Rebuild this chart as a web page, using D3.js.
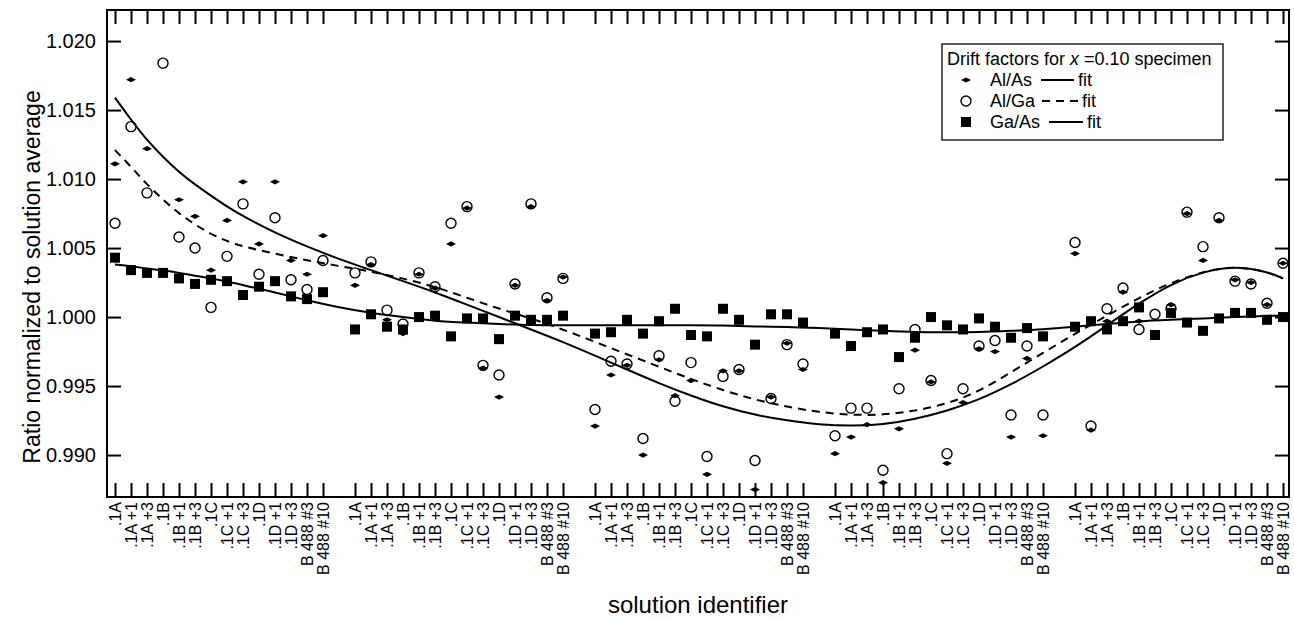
<!DOCTYPE html>
<html>
<head>
<meta charset="utf-8">
<script src="https://cdn.jsdelivr.net/npm/d3@7"></script>
<style>
  body { margin: 0; background: #fff; }
  svg { display: block; }
  text { font-family: "Liberation Sans", Arial, sans-serif; fill: #000; }
</style>
</head>
<body>
<svg id="chart" width="1294" height="618"></svg>
<script>
// labels repeated in each of the 5 solution runs
const runLabels = [".1A", ".1A +1", ".1A +3", ".1B", ".1B +1", ".1B +3", ".1C", ".1C +1", ".1C +3",
  ".1D", ".1D +1", ".1D +3", "B 488 #3", "B 488 #10"];
const runCount = 5;
const yTicks = [0.990, 0.995, 1.000, 1.005, 1.010, 1.015, 1.020];

// measured ratios, 14 per run
const alAs = [
  1.0111, 1.0172, 1.0122, null, 1.0085, 1.0073, 1.0034, 1.0070, 1.0098, 1.0053, 1.0098, 1.0041, 1.0031, 1.0059,
  1.0023, 1.0038, 0.9998, 0.9988, 1.0031, 1.0021, 1.0053, 1.0079, 0.9963, 0.9942, 1.0023, 1.0080, 1.0012, 1.0029,
  0.9921, 0.9958, 0.9965, 0.9900, 0.9969, 0.9943, 0.9954, 0.9886, 0.9961, 0.9961, 0.9875, 0.9942, 0.9981, 0.9962,
  0.9901, 0.9913, 0.9922, 0.9880, 0.9919, 0.9976, 0.9953, 0.9894, 0.9938, 0.9977, 0.9975, 0.9913, 0.9970, 0.9914,
  1.0046, 0.9918, 0.9997, 1.0018, 0.9997, 0.9989, 1.0009, 1.0075, 1.0041, 1.0070, 1.0027, 1.0025, 1.0009, 1.0039
];
const alGa = [
  1.0068, 1.0138, 1.0090, 1.0184, 1.0058, 1.0050, 1.0007, 1.0044, 1.0082, 1.0031, 1.0072, 1.0027, 1.0020, 1.0041,
  1.0032, 1.0040, 1.0005, 0.9995, 1.0032, 1.0022, 1.0068, 1.0080, 0.9965, 0.9958, 1.0024, 1.0082, 1.0014, 1.0028,
  0.9933, 0.9968, 0.9966, 0.9912, 0.9972, 0.9939, 0.9967, 0.9899, 0.9957, 0.9962, 0.9896, 0.9941, 0.9980, 0.9966,
  0.9914, 0.9934, 0.9934, 0.9889, 0.9948, 0.9991, 0.9954, 0.9901, 0.9948, 0.9979, 0.9983, 0.9929, 0.9979, 0.9929,
  1.0054, 0.9921, 1.0006, 1.0021, 0.9991, 1.0002, 1.0006, 1.0076, 1.0051, 1.0072, 1.0026, 1.0024, 1.0010, 1.0039
];
const gaAs = [
  1.0043, 1.0034, 1.0032, 1.0032, 1.0028, 1.0024, 1.0027, 1.0026, 1.0016, 1.0022, 1.0026, 1.0015, 1.0013, 1.0018,
  0.9991, 1.0002, 0.9993, 0.9991, 1.0000, 1.0001, 0.9986, 0.9999, 0.9999, 0.9984, 1.0001, 0.9998, 0.9998, 1.0001,
  0.9988, 0.9989, 0.9998, 0.9988, 0.9997, 1.0006, 0.9987, 0.9986, 1.0006, 0.9998, 0.9980, 1.0002, 1.0002, 0.9996,
  0.9988, 0.9979, 0.9989, 0.9991, 0.9971, 0.9985, 1.0000, 0.9994, 0.9991, 0.9999, 0.9993, 0.9985, 0.9992, 0.9986,
  0.9993, 0.9997, 0.9991, 0.9997, 1.0007, 0.9987, 1.0003, 0.9996, 0.9990, 0.9999, 1.0003, 1.0003, 0.9998, 1.0000
];

// fit curves, at slot positions
const fitSlots = [0, 1, 2, 3, 4, 5, 6, 7, 8, 10, 12, 14, 16, 18, 20, 22, 24, 26, 28, 30, 32, 34, 36, 38,
  40, 42, 44, 46, 48, 50, 52, 54, 56, 58, 60, 62, 64, 66, 68, 70, 72, 73];
const alAsFit = [1.0159, 1.0143, 1.0128, 1.0116, 1.0105, 1.0096, 1.0088, 1.0080, 1.0073, 1.0061, 1.0051, 1.0042,
  1.0034, 1.0026, 1.0018, 1.0009, 1.0000, 0.9991, 0.9982, 0.9972, 0.9962, 0.9952, 0.9943, 0.9935,
  0.9929, 0.9925, 0.9922, 0.9921, 0.9922, 0.9926, 0.9932, 0.9940, 0.9951, 0.9964, 0.9978, 0.9994, 1.0010, 1.0024,
  1.0033, 1.0037, 1.0033, 1.0028];
const alGaFit = [1.0121, 1.0109, 1.0096, 1.0085, 1.0075, 1.0067, 1.0060, 1.0055, 1.0051, 1.0046, 1.0041, 1.0037,
  1.0033, 1.0028, 1.0022, 1.0014, 1.0006, 0.9999, 0.9991, 0.9982, 0.9973, 0.9964, 0.9955, 0.9947,
  0.9940, 0.9935, 0.9931, 0.9929, 0.9929, 0.9932, 0.9937, 0.9946, 0.9960, 0.9974, 0.9988, 1.0001, 1.0014, 1.0025,
  1.0033, 1.0037, 1.0033, 1.0028];
const gaAsFit = [1.0038, 1.0037, 1.0035, 1.0034, 1.0032, 1.0030, 1.0028, 1.0026, 1.0023, 1.0018, 1.0012, 1.0007,
  1.0003, 1.0000, 0.9997, 0.9996, 0.9995, 0.9994, 0.9994, 0.9994, 0.9994, 0.9994, 0.9994, 0.9994,
  0.9993, 0.9993, 0.9992, 0.9991, 0.9990, 0.9989, 0.9989, 0.9989, 0.9990, 0.9991, 0.9993, 0.9995, 0.9997, 0.9998,
  0.9999, 1.0000, 1.0001, 1.0001];

// one empty slot between runs
const slotOf = i => Math.floor(i / runLabels.length) * (runLabels.length + 1) + i % runLabels.length;
const labels = d3.range(runCount * runLabels.length).map(i => runLabels[i % runLabels.length]);
const slots = labels.map((d, i) => slotOf(i));

const svg = d3.select("#chart");
const plotLeft = 107, plotRight = 1289, plotTop = 10, plotBottom = 497;

const x = d3.scaleLinear().domain([0, 73]).range([115, 1283]);
const y = d3.scaleLinear().domain([0.98696, 1.02225]).range([plotBottom, plotTop]);

// axes with inward ticks
const tickLen = 14;
const gl = svg.append("g").attr("transform", `translate(${plotLeft},0)`)
  .call(d3.axisLeft(y).tickValues(yTicks).tickSize(-tickLen).tickPadding(11).tickFormat(d3.format(".3f")));
const gr = svg.append("g").attr("transform", `translate(${plotRight},0)`)
  .call(d3.axisRight(y).tickValues(yTicks).tickSize(-tickLen).tickFormat(""));
const gt = svg.append("g").attr("transform", `translate(0,${plotTop})`)
  .call(d3.axisTop(x).tickValues(slots).tickSize(-tickLen).tickFormat(""));
const gb = svg.append("g").attr("transform", `translate(0,${plotBottom})`)
  .call(d3.axisBottom(x).tickValues(slots).tickSize(-tickLen).tickFormat((d, i) => labels[i]));

[gl, gr, gt, gb].forEach(g => {
  g.select(".domain").remove();
  g.selectAll(".tick line").attr("stroke", "#000").attr("stroke-width", 2);
});
gl.selectAll("text").style("font-size", "20px");
gb.selectAll("text")
  .style("font-size", "16px")
  .attr("transform", "rotate(-90)")
  .attr("x", -5).attr("y", 0).attr("dy", "0.35em")
  .attr("text-anchor", "end");

svg.append("rect")
  .attr("x", plotLeft).attr("y", plotTop)
  .attr("width", plotRight - plotLeft).attr("height", plotBottom - plotTop)
  .attr("fill", "none").attr("stroke", "#000").attr("stroke-width", 2);

// fit lines
const line = d3.line().x(d => x(d[0])).y(d => y(d[1])).curve(d3.curveBasis);
const fits = [
  { vals: gaAsFit, dash: null },
  { vals: alGaFit, dash: "8,6" },
  { vals: alAsFit, dash: null }
];
fits.forEach(f => {
  svg.append("path")
    .datum(fitSlots.map((s, i) => [s, f.vals[i]]))
    .attr("d", line)
    .attr("fill", "none")
    .attr("stroke", "#000")
    .attr("stroke-width", 2)
    .attr("stroke-dasharray", f.dash);
});

// markers
const diamond = "M-5,0L0,-2.6L5,0L0,2.6Z";
const pts = arr => arr.map((v, i) => ({ s: slots[i], v })).filter(d => d.v != null);

svg.append("g").selectAll("circle").data(pts(alGa)).join("circle")
  .attr("cx", d => x(d.s)).attr("cy", d => y(d.v)).attr("r", 5)
  .attr("fill", "none").attr("stroke", "#000").attr("stroke-width", 1.4);

svg.append("g").selectAll("path").data(pts(alAs)).join("path")
  .attr("d", diamond)
  .attr("transform", d => `translate(${x(d.s)},${y(d.v)})`)
  .attr("fill", "#000");

svg.append("g").selectAll("rect").data(pts(gaAs)).join("rect")
  .attr("x", d => x(d.s) - 5).attr("y", d => y(d.v) - 5)
  .attr("width", 10).attr("height", 10)
  .attr("fill", "#000");

// legend
const lg = svg.append("g");
lg.append("rect").attr("x", 942).attr("y", 44).attr("width", 281).attr("height", 96)
  .attr("fill", "#fff").attr("stroke", "#000").attr("stroke-width", 1.3);
const title = lg.append("text").attr("x", 947).attr("y", 65).style("font-size", "18px");
title.append("tspan").text("Drift factors for ");
title.append("tspan").style("font-style", "italic").text("x");
title.append("tspan").text(" =0.10 specimen");

const rows = [
  { name: "Al/As", y: 86, mark: "diamond", x1: 1041, x2: 1074, dash: null },
  { name: "Al/Ga", y: 107, mark: "circle", x1: 1042, x2: 1078, dash: "8,6" },
  { name: "Ga/As", y: 128, mark: "square", x1: 1049, x2: 1083, dash: null }
];
rows.forEach(r => {
  const cy = r.y - 6;
  if (r.mark === "diamond") {
    lg.append("path").attr("d", diamond).attr("transform", `translate(966,${cy})`).attr("fill", "#000");
  } else if (r.mark === "circle") {
    lg.append("circle").attr("cx", 966).attr("cy", cy).attr("r", 5)
      .attr("fill", "none").attr("stroke", "#000").attr("stroke-width", 1.4);
  } else {
    lg.append("rect").attr("x", 961).attr("y", cy - 5).attr("width", 10).attr("height", 10).attr("fill", "#000");
  }
  lg.append("text").attr("x", 990).attr("y", r.y).style("font-size", "18px").text(r.name);
  lg.append("line").attr("x1", r.x1).attr("x2", r.x2).attr("y1", cy).attr("y2", cy)
    .attr("stroke", "#000").attr("stroke-width", 2).attr("stroke-dasharray", r.dash);
  lg.append("text").attr("x", r.x2 + 4).attr("y", r.y).style("font-size", "18px").text("fit");
});

// axis titles
svg.append("text")
  .attr("transform", "translate(40,277) rotate(-90)")
  .attr("text-anchor", "middle")
  .style("font-size", "23px")
  .text("Ratio normalized to solution average");

svg.append("text")
  .attr("x", 698).attr("y", 613)
  .attr("text-anchor", "middle")
  .style("font-size", "24px")
  .text("solution identifier");
</script>
</body>
</html>
